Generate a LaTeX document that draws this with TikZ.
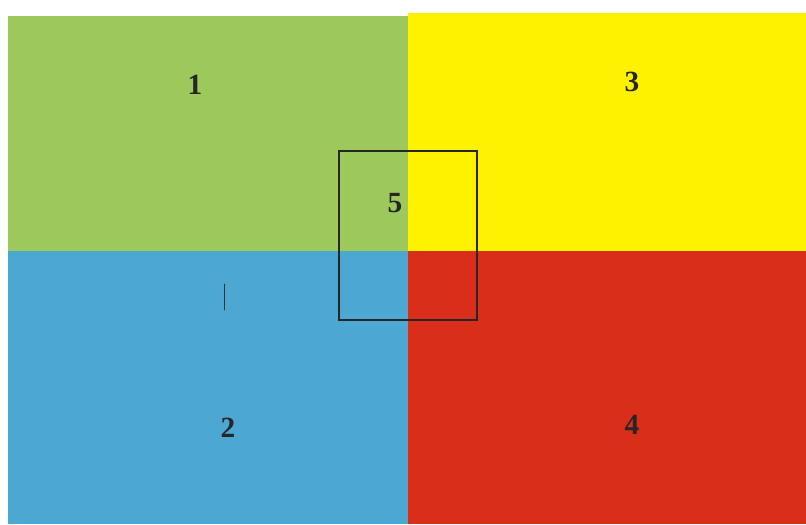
\documentclass[tikz,border=0pt]{standalone}
\usepackage{fontspec}
\setmainfont{Liberation Serif}
\definecolor{leaf}{RGB}{156,200,92}
\definecolor{lemon}{RGB}{255,242,0}
\definecolor{sky}{RGB}{76,168,210}
\definecolor{brick}{RGB}{216,46,26}
\tikzset{num/.style={font=\bfseries\fontsize{25}{25}\selectfont,text=black!85}}
\begin{document}
\begin{tikzpicture}[x=0.03cm,y=-0.03cm,line cap=round]
  \useasboundingbox (0,0) rectangle (806,524);
  \fill[white] (0,0) rectangle (806,524);
  \fill[leaf] (8,16) rectangle (408,251);
  \fill[lemon] (408,13) rectangle (806,251);
  \fill[sky] (8,251) rectangle (408,524);
  \fill[brick] (408,251) rectangle (806,524);
  \draw[black!80,line width=0.5pt] (224,284) -- (224,310);
  \draw[black!85,line width=0.9pt] (339,151) rectangle (477,320);
  \node[num] (q1) at (195,85) {1};
  \node[num] (q3) at (632,82) {3};
  \node[num] (q5) at (395,203) {5};
  \node[num] (q2) at (228,428) {2};
  \node[num] (q4) at (632,425) {4};
\end{tikzpicture}
\end{document}
